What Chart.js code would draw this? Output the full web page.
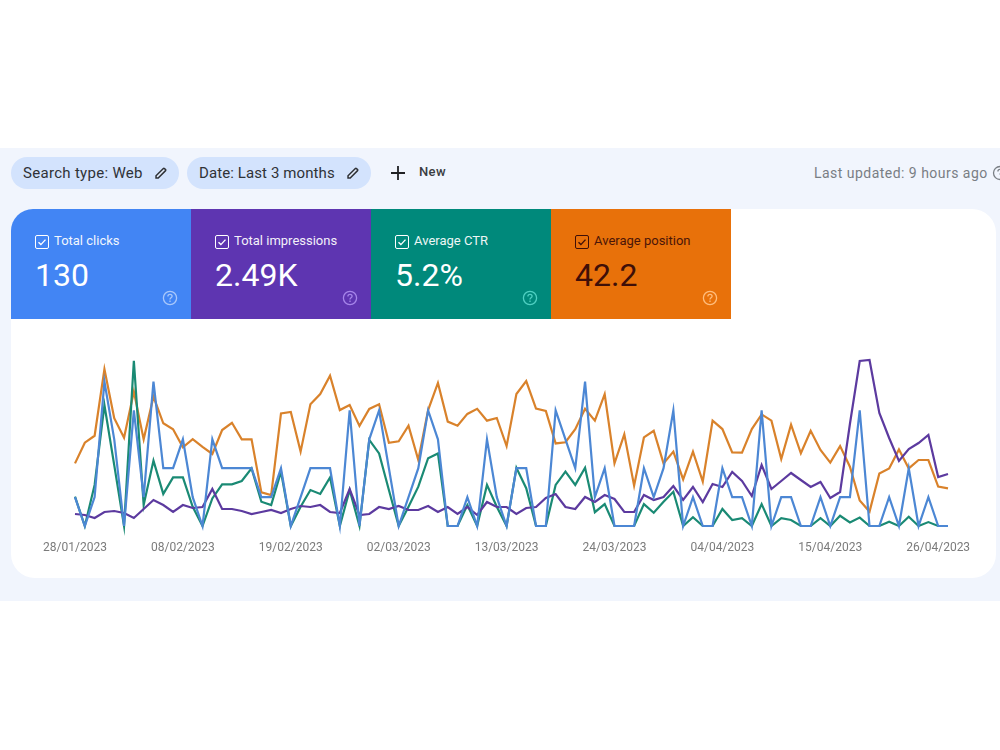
<!DOCTYPE html>
<html>
<head>
<meta charset="utf-8">
<title>Performance</title>
<script src="https://cdn.jsdelivr.net/npm/chart.js@4"></script>
<style>
  html, body { margin: 0; padding: 0; background: #fff; }
  body { width: 1000px; height: 750px; position: relative; overflow: hidden; font-family: Roboto, sans-serif; }
  .abs { position: absolute; white-space: nowrap; }
  #band { left: 0; top: 148px; width: 1000px; height: 453px; background: #f1f5fd; }
  #card { left: 11px; top: 209px; width: 985px; height: 369px; background: #fff; border-radius: 24px; }
  .chip { height: 32px; top: 157px; border-radius: 16px; background: #d3e3fd; color: #2f3237; font-size: 15px; line-height: 32px; letter-spacing: .3px; }
  .chip span { position: absolute; left: 12px; }
  .chip svg { position: absolute; top: 9px; width: 14px; height: 14px; }
  #newBtn { left: 419px; top: 164px; font-size: 13px; font-weight: 500; color: #3a3d42; letter-spacing: .4px; line-height: 16px; }
  #updated { left: 814px; top: 164px; font-size: 14px; line-height: 18px; color: #797e84; letter-spacing: .47px; }
  .tile { top: 209px; width: 180px; height: 110px; overflow: hidden; }
  .tile .box { position: absolute; left: 24px; top: 26px; width: 12px; height: 12px; border: 1px solid currentColor; border-radius: 2px; }
  .tile .box svg { position: absolute; left: 1px; top: 1px; width: 10px; height: 10px; }
  .tile .name { position: absolute; left: 43px; top: 24px; font-size: 13px; font-weight: 400; line-height: 16px; opacity: .93; }
  .tile .num { position: absolute; left: 24px; top: 47px; font-size: 32px; line-height: 38px; }
  .tile .help { position: absolute; left: 151px; top: 81px; width: 16px; height: 16px; }
  #chartBox { left: 11px; top: 330px; width: 985px; height: 240px; }
</style>
</head>
<body>
<div class="abs" id="band"></div>
<div class="abs" id="card"></div>

<div class="abs chip" style="left:11px;width:168px"><span>Search type: Web</span>
  <svg style="left:143px" viewBox="0 0 24 24"><path fill="#e3edfd" stroke="#2f3237" stroke-width="2.6" d="M3.5 16.8v3.7h3.7L19.8 7.9c.5-.5.5-1.2 0-1.7l-2-2c-.5-.5-1.2-.5-1.7 0L3.5 16.8z"/></svg></div>
<div class="abs chip" style="left:187px;width:184px"><span style="letter-spacing:.1px">Date: Last 3 months</span>
  <svg style="left:159px" viewBox="0 0 24 24"><path fill="#e3edfd" stroke="#2f3237" stroke-width="2.6" d="M3.5 16.8v3.7h3.7L19.8 7.9c.5-.5.5-1.2 0-1.7l-2-2c-.5-.5-1.2-.5-1.7 0L3.5 16.8z"/></svg></div>
<svg class="abs" style="left:390px;top:165px" width="16" height="16" viewBox="0 0 16 16"><path d="M8 1v14M1 8h14" stroke="#202124" stroke-width="1.8" fill="none"/></svg>
<div class="abs" id="newBtn">New</div>
<div class="abs" id="updated">Last updated: 9 hours ago</div>
<svg class="abs" style="left:992px;top:165px" width="16" height="16" viewBox="0 0 16 16"><circle cx="8" cy="8" r="6.5" fill="none" stroke="#797e84" stroke-width="1.3"/><path d="M5.9 6.4c0-1.2 1-2 2.1-2s2.1.8 2.1 1.9c0 1.5-2.1 1.6-2.1 3.2" fill="none" stroke="#797e84" stroke-width="1.3"/></svg>

<div id="tiles"></div>
<div class="abs" id="chartBox"><canvas id="chartPerf" width="985" height="240"></canvas></div>

<script>
// Metric tiles
const tileNames = ['Total clicks', 'Total impressions', 'Average CTR', 'Average position'];
const tileValues = ['130', '2.49K', '5.2%', '42.2'];

// Axis dates, first day of the range plus the days that get a tick
const firstDay = [2023, 0, 28];
const dayCount = 90;
const tickEvery = 11;

// Daily values
const clicks = [1,0,1,5,3,0,4,1,5,2,2,3,1,0,3,2,2,2,2,1,
  1,2,0,1,2,2,2,0,4,0,3,4,2,0,1,2,4,3,0,0,1,0,3,1,0,
  2,2,0,0,4,3,2,5,1,2,0,0,0,2,1,2,4,0,1,0,0,2,1,1,
  0,4,0,1,1,0,0,1,0,1,1,4,0,0,1,0,2,0,1,0,0];
const impressions = [12,11,8,14,15,13,8,17,26,21,14,21,18,19,37,17,17,15,12,14,
  16,13,17,20,19,21,14,13,37,11,12,19,17,20,16,16,20,14,19,12,
  19,11,24,19,19,12,18,19,28,32,19,17,29,24,31,27,14,14,31,26,
  29,40,26,39,24,42,39,54,45,30,61,37,45,53,46,39,44,28,34,102,
  165,166,113,88,65,77,83,91,49,52];
const ctr = [9.8,0,13.7,40.3,20.3,0,55.1,7,21.8,10.7,16.2,16.2,6.4,0,9.2,13.9,13.9,15,19.2,8.1,
  7,18.1,0,6.4,12,10.7,16.2,0,12,0,28.7,24.2,12,0,6.4,13.1,22.6,24.2,0,0,
  7,0,13.7,6.4,0,19.4,12.6,0,0,13.7,18.1,13.7,19.4,4.6,7.3,0,0,0,7.3,4.4,
  8.1,11.4,0,2.9,0,0,5.7,2,2.6,0,7.3,0,2.6,2,0,0,2.6,0,3.4,1.2,
  2.8,0,0,1.4,0,3.1,0,1.3,0,0];
const position = [48.9,40.3,37.4,9.7,30.1,38.2,19,38.9,21.1,32.2,34.7,42.2,38.8,42,45,35,32,38.9,38.9,61,
  62.1,28.1,27.5,44,24.3,20,12.4,26.7,24.6,33.3,26.2,24.3,40.3,39.7,33.2,47.5,26.7,15.4,31.5,33.2,
  28.3,26.2,31.1,30,41.7,20,14.6,26.1,27.1,40.6,40.1,34.7,26.2,31.1,20.1,48.9,36.8,58.2,38.1,35.3,
  48.9,44,55.6,44,56.5,31.1,34.6,44.3,44.4,34.6,28.5,31.1,47.1,32.8,44.7,35.3,43.3,48.6,41.7,50.3,
  64.4,69,53.1,51,43.1,51,47.5,47.5,58.6,59.3];

const tileColors = ['#4285f4', '#5e35b1', '#00897b', '#e8710a'];
const tileInk = ['#fff', '#fff', '#fff', '#3f0f08'];
const helpInk = ['#a9c8fb', '#a685ea', '#4fd0c2', '#ffbd7d'];

const tilesEl = document.getElementById('tiles');
tileNames.forEach(function (name, i) {
    const radius = i === 0 ? 'border-top-left-radius:22px;' : '';
    tilesEl.insertAdjacentHTML('beforeend',
        '<div class="abs tile" style="left:' + (11 + i * 180) + 'px;background:' + tileColors[i] + ';color:' + tileInk[i] + ';' + radius + '">' +
        '<div class="box"><svg viewBox="0 0 10 10"><path d="M1.5 5.2l2.4 2.4 4.6-5" fill="none" stroke="currentColor" stroke-width="1.4"/></svg></div>' +
        '<div class="name">' + name + '</div>' +
        '<div class="num">' + tileValues[i] + '</div>' +
        '<svg class="help" viewBox="0 0 16 16"><circle cx="8" cy="8" r="6.6" fill="none" stroke="' + helpInk[i] + '" stroke-width="1.3"/>' +
        '<path d="M5.9 6.4c0-1.2 1-2 2.1-2s2.1.8 2.1 1.9c0 1.5-2.1 1.6-2.1 3.2M8 10.6v1.3" fill="none" stroke="' + helpInk[i] + '" stroke-width="1.3"/></svg>' +
        '</div>');
});

function two(n) { return (n < 10 ? '0' : '') + n; }
const dayLabels = [];
for (let d = 0; d < dayCount; d++) {
    const date = new Date(firstDay[0], firstDay[1], firstDay[2] + d);
    dayLabels.push(two(date.getDate()) + '/' + two(date.getMonth() + 1) + '/' + date.getFullYear());
}

function serie(label, data, color, axis) {
    return {
        label: label,
        data: data,
        yAxisID: axis,
        borderColor: color,
        borderWidth: 2.2,
        pointRadius: 0,
        tension: 0,
        fill: false,
        clip: false
    };
}

function hiddenAxis(min, max, reverse) {
    return { display: false, min: min, max: max, reverse: !!reverse };
}

const ctx = document.getElementById('chartPerf').getContext('2d');
new Chart(ctx, {
    type: 'line',
    data: {
        labels: dayLabels,
        // first one is painted on top
        datasets: [
            serie('Total clicks', clicks, '#4c87d4', 'yClicks'),
            serie('Total impressions', impressions, '#5c3a9f', 'yImpressions'),
            serie('Average CTR', ctr, '#1a8a74', 'yCtr'),
            serie('Average position', position, '#d9822b', 'yPosition')
        ]
    },
    options: {
        responsive: false,
        animation: false,
        layout: { padding: { left: 64, right: 48, top: 16, bottom: 0 } },
        plugins: { legend: { display: false }, tooltip: { enabled: false } },
        scales: {
            x: {
                offset: false,
                grid: { display: false },
                border: { display: false },
                afterBuildTicks: function (axis) {
                    axis.ticks = axis.ticks.filter(function (t) { return t.value % tickEvery === 0; });
                },
                // keeps the plot 180px tall, the labels sit in what is left
                afterFit: function (axis) { axis.height = 44; },
                ticks: {
                    autoSkip: false,
                    maxRotation: 0,
                    minRotation: 0,
                    padding: 7,
                    color: '#7b7b7b',
                    font: { family: 'Roboto', size: 12 }
                }
            },
            yClicks: hiddenAxis(0, 6.23),
            yImpressions: hiddenAxis(0, 180),
            yCtr: hiddenAxis(0, 60),
            yPosition: hiddenAxis(0, 75, true)
        }
    }
});
</script>
</body>
</html>
